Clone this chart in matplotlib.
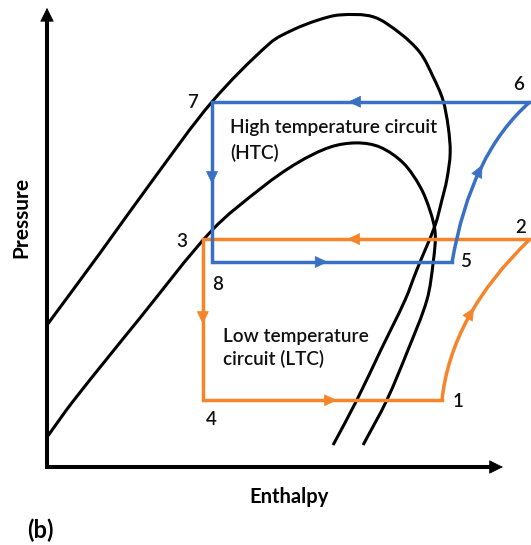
import numpy as np
import matplotlib
matplotlib.use('Agg')
import matplotlib.pyplot as plt
from matplotlib.path import Path
from matplotlib.patches import PathPatch

plt.rcParams['font.family'] = ['Lato', 'DejaVu Sans']

# saturation domes, enthalpy / pressure in arbitrary units (0..100)
htc_dome_h = [0, 10.95, 21.9, 34.1, 46.1, 50.8, 56.0, 60.5, 67.4, 72.9, 77.1, 79.8,
              81.8, 82.9, 83.3, 82.6, 81.6, 80.2, 76.4, 74.0, 69.0, 64.0, 59.1]
htc_dome_p = [30.4, 45.8, 61.5, 78.2, 90.8, 93.6, 95.7, 96.8, 96.4, 92.9, 88.7, 83.5,
              78.6, 72.8, 67.2, 61.5, 57.2, 51.8, 42.2, 35.8, 25.1, 14.3, 4.7]

ltc_dome_h = [0, 5.4, 19.2, 34.1, 44.6, 51.7, 58.5, 64.0, 68.8, 73.6, 77.1, 79.1,
              80.2, 79.8, 78.5, 74.6, 70.2, 65.3]
ltc_dome_p = [6.4, 14.1, 31.9, 50.7, 60.0, 65.1, 68.5, 69.4, 68.5, 65.1, 60.0, 55.0,
              50.1, 43.9, 35.8, 25.1, 14.3, 4.7]

# cycle state points 1..8
state_h = [81.6, 99.8, 32.2, 32.2, 83.7, 99.8, 34.1, 34.1]
state_p = [14.3, 48.8, 48.8, 14.3, 43.9, 78.2, 78.2, 43.9]
state_labels = ['1', '2', '3', '4', '5', '6', '7', '8']
label_dh = [3.3, -1.9, -4.3, 1.7, 2.7, -2.3, -4.1, 1.2]
label_dp = [-1.5, 1.3, -1.7, -5.4, -1.1, 2.6, -1.3, -6.0]

# compression 1->2 and 5->6 drawn as quadratic curves (control point = tangent crossing)
ltc_comp_ctrl = (83.5, 32.6)
htc_comp_ctrl = (87.5, 67.0)

blue = '#3A70C3'
orange = '#F5842A'


def smooth_path(h, p):
    # cubic bezier through the points, tangents scaled by chord length
    pts = np.column_stack([h, p]).astype(float)
    d = np.hypot(*np.diff(pts, axis=0).T)
    m = np.zeros_like(pts)
    m[0] = (pts[1] - pts[0]) / d[0]
    m[-1] = (pts[-1] - pts[-2]) / d[-1]
    for i in range(1, len(pts) - 1):
        m[i] = (pts[i + 1] - pts[i - 1]) / (d[i - 1] + d[i])
    verts = [pts[0]]
    codes = [Path.MOVETO]
    for i in range(len(pts) - 1):
        verts += [pts[i] + m[i] * d[i] / 3, pts[i + 1] - m[i + 1] * d[i] / 3, pts[i + 1]]
        codes += [Path.CURVE4] * 3
    return Path(verts, codes)


def arrow_head(ax, h, p, dh, dp, color):
    d = np.array([dh, dp], dtype=float)
    d = d / np.hypot(*d)
    ax.annotate('', xy=(h, p), xytext=(h - 1.2 * d[0], p - 1.2 * d[1]),
                arrowprops=dict(arrowstyle='-|>,head_length=0.7,head_width=0.33',
                                color=color, lw=0.5, mutation_scale=12,
                                shrinkA=0, shrinkB=0), zorder=6)


def arrow_on_path(ax, path, t, color):
    # head on the bezier at parameter t, pointing along it
    seg = list(path.iter_bezier())[-1][0]
    a = seg.point_at_t(t - 0.01)
    b = seg.point_at_t(t + 0.01)
    c = seg.point_at_t(t)
    arrow_head(ax, c[0], c[1], b[0] - a[0], b[1] - a[1], color)


fig = plt.figure(figsize=(5.31, 5.45), dpi=100)
ax = fig.add_axes([47 / 531, 78 / 545, 484 / 531, 467 / 545])
ax.set_xlim(0, 100)
ax.set_ylim(0, 100)
ax.axis('off')

# axes with arrows
ax.plot([0, 0, 92], [96, 0, 0], color='black', lw=2.9,
        solid_joinstyle='miter', solid_capstyle='butt', clip_on=False)
ax.annotate('', xy=(94.2, 0), xytext=(90, 0),
            arrowprops=dict(arrowstyle='-|>,head_length=0.6,head_width=0.3',
                            color='black', lw=0.5, mutation_scale=15, shrinkA=0, shrinkB=0),
            annotation_clip=False)
ax.annotate('', xy=(0, 98.3), xytext=(0, 94),
            arrowprops=dict(arrowstyle='-|>,head_length=0.6,head_width=0.3',
                            color='black', lw=0.5, mutation_scale=15, shrinkA=0, shrinkB=0),
            annotation_clip=False)

# domes
for h, p in [(htc_dome_h, htc_dome_p), (ltc_dome_h, ltc_dome_p)]:
    ax.add_patch(PathPatch(smooth_path(h, p), fill=False, ec='black', lw=2.2,
                           capstyle='butt', zorder=2))

H = state_h
P = state_p
quad = [Path.MOVETO, Path.CURVE3, Path.CURVE3]

# low temperature circuit: 2 -> 3 -> 4 -> 1, then compression 1 -> 2
ax.plot([H[1], H[2], H[3], H[0]], [P[1], P[2], P[3], P[0]], color=orange, lw=2.5,
        solid_joinstyle='miter', clip_on=False, zorder=3)
ltc_comp = Path([(H[0], P[0]), ltc_comp_ctrl, (H[1], P[1])], quad)
ax.add_patch(PathPatch(ltc_comp, fill=False, ec=orange, lw=2.5, clip_on=False, zorder=3))

# high temperature circuit: 6 -> 7 -> 8 -> 5, then compression 5 -> 6
ax.plot([H[5], H[6], H[7], H[4]], [P[5], P[6], P[7], P[4]], color=blue, lw=2.5,
        solid_joinstyle='miter', clip_on=False, zorder=4)
htc_comp = Path([(H[4], P[4]), htc_comp_ctrl, (H[5], P[5])], quad)
ax.add_patch(PathPatch(htc_comp, fill=False, ec=blue, lw=2.5, clip_on=False, zorder=4))

# flow direction
arrow_head(ax, 62.2, P[5], -1, 0, blue)
arrow_head(ax, H[6], 60.6, 0, -1, blue)
arrow_head(ax, 58.0, P[7], 1, 0, blue)
arrow_on_path(ax, htc_comp, 0.52, blue)
arrow_head(ax, 62.0, P[1], -1, 0, orange)
arrow_head(ax, H[2], 30.6, 0, -1, orange)
arrow_head(ax, 59.9, P[3], 1, 0, orange)
arrow_on_path(ax, ltc_comp, 0.56, orange)

# state numbers
for lab, h, p, dh, dp in zip(state_labels, H, P, label_dh, label_dp):
    ax.text(h + dh, p + dp, lab, fontsize=13.5, fontweight=600, ha='center',
            va='baseline', color='#111111', clip_on=False)

txt = dict(fontsize=13.7, fontweight=600, ha='left', va='baseline', color='#111111')
ax.text(37.8, 71.6, 'High temperature circuit', **txt)
ax.text(37.8, 66.0, '(HTC)', **txt)
ax.text(36.4, 26.8, 'Low temperature', **txt)
ax.text(36.4, 21.8, 'circuit (LTC)', **txt)

fig.text(289 / 531, 1 - 497 / 545, 'Enthalpy', fontsize=14.5, fontweight='bold',
         ha='center', va='center')
fig.text(21 / 531, 1 - 217 / 545, 'Pressure', fontsize=15, fontweight='bold',
         ha='center', va='center', rotation=90)
fig.text(40 / 531, 1 - 530 / 545, '(b)', fontsize=17, fontweight='bold',
         ha='center', va='center')

fig.savefig('out.png', dpi=100)
